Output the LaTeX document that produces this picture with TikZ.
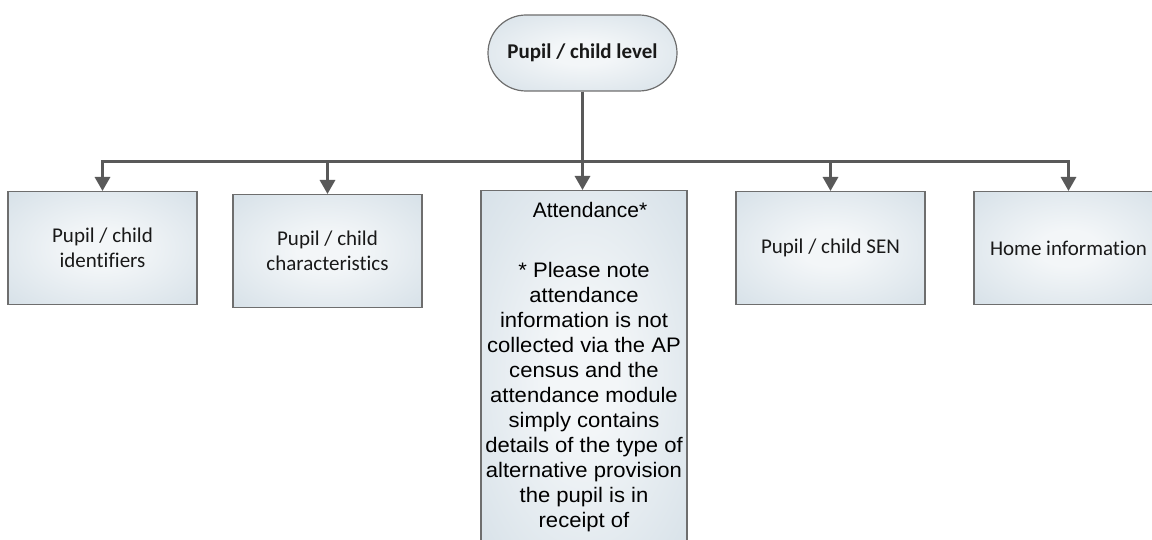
\documentclass[tikz,border=0pt]{standalone}
\usepackage{fontspec}
\setmainfont[Ligatures=NoCommon]{Carlito}
\newfontfamily\arialf[FakeStretch=1.05]{Liberation Sans}
\newfontfamily\arialn{Liberation Sans}
\usetikzlibrary{arrows.meta,calc}
\definecolor{boxedge}{RGB}{200,214,224}
\definecolor{boxmid}{RGB}{243,246,248}
\definecolor{boxline}{RGB}{110,110,110}
\definecolor{connline}{RGB}{89,89,89}
\pgfdeclareradialshading{boxshade}{\pgfpoint{0bp}{0bp}}{color(0bp)=(boxmid); color(8bp)=(boxmid); color(50bp)=(boxedge); color(75bp)=(boxedge)}
\tikzset{
  box/.style={draw=boxline, line width=1.2pt, shading=boxshade, minimum width=189pt, minimum height=113pt, inner sep=0pt, align=center, font=\fontsize{21}{25}\selectfont, text=black!90},
  topbox/.style={box, minimum width=189pt, minimum height=76pt, rounded corners=38pt, font=\fontsize{21}{25}\selectfont\bfseries},
  conn/.style={draw=connline, line width=3pt, -{Triangle[width=15pt,length=14pt]}},
  attext/.style={inner sep=0pt, align=center, font=\arialf\fontsize{21}{25}\selectfont, text=black}
}
\begin{document}
\begin{tikzpicture}[x=1pt,y=-1pt]
\useasboundingbox (0,0) rectangle (1152,540);
\clip (0,0) rectangle (1152,540);
\node[topbox] (top) at (582.5,53) {Pupil / child level};
\node[box, anchor=north] (b1) at (102.5,191) {Pupil / child\\identifiers};
\node[box, anchor=north] (b2) at (327.5,194) {Pupil / child\\characteristics};
\node[box, anchor=north, minimum width=206pt, minimum height=370pt] (att) at (584,190) {};
\node[box, anchor=north] (b4) at (830.5,191) {Pupil / child SEN};
\node[box, anchor=north] (b5) at (1068.5,191) {Home information};
\node[attext, anchor=north] (atttitle) at (584,202) {{\arialn\hspace*{12pt}Attendance*}\\[35pt]
* Please note\\ attendance\\ information is not\\ collected via the AP\\ census and the\\ attendance module\\ simply contains\\ details of the type of\\ alternative provision\\ the pupil is in\\ receipt of};
\coordinate (bar) at (top.south |- 0,162);
\draw[conn] (top.south) -- (top.south |- att.north);
\draw[conn] (top.south) -- (bar) -| (b1.north);
\draw[conn] (bar) -| (b2.north);
\draw[conn] (bar) -| (b4.north);
\draw[conn] (bar) -| (b5.north);
\end{tikzpicture}
\end{document}
